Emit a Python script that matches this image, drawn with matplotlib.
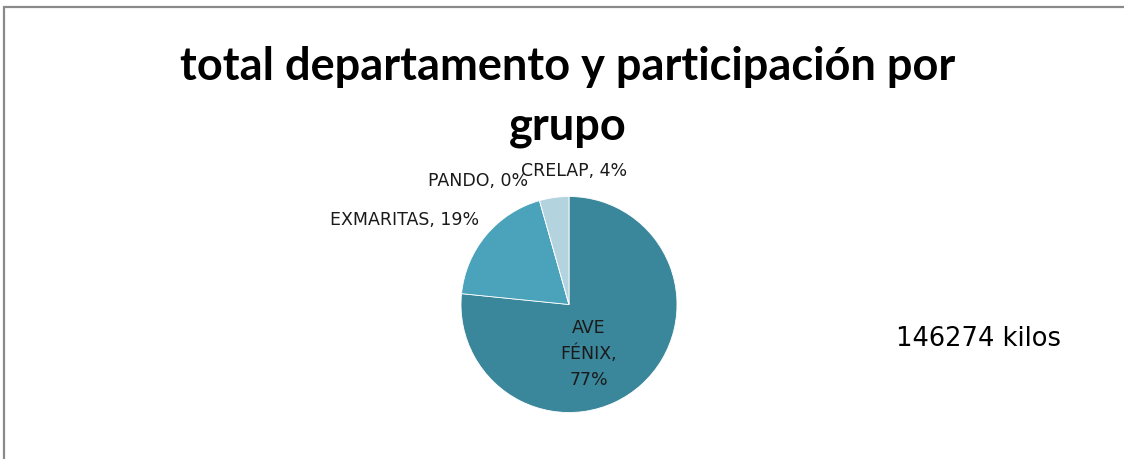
import matplotlib
matplotlib.use("Agg")
import matplotlib.pyplot as plt
from matplotlib.patches import Rectangle

# Data
categories = ["AVE FÉNIX", "EXMARITAS", "PANDO", "CRELAP"]
shares = [76.6, 19.0, 0.0, 4.4]
colors = ["#3A879B", "#4AA3BA", "#8CC3D3", "#B3D3DF"]
title_lines = ["total departamento y participación por", "grupo"]
total_text = "146274 kilos"

W, H = 1124, 460
fig = plt.figure(figsize=(W / 100, H / 100), dpi=100)
ax = fig.add_axes([0, 0, 1, 1])
ax.set_xlim(0, W)
ax.set_ylim(0, H)
ax.set_aspect("equal")
ax.axis("off")

# chart border (extends beyond right and bottom edges)
ax.add_patch(Rectangle((3.5, -20), W + 20, H - 8 + 20, fill=False,
                       edgecolor="#8a8a8a", linewidth=1.6))

cx, cy, r = 569, H - 305.5, 108
wedges, _ = ax.pie(shares, colors=colors, startangle=90, counterclock=False,
                   center=(cx, cy), radius=r, frame=True,
                   wedgeprops=dict(linewidth=0.6, edgecolor="white"))
ax.set_xlim(0, W)
ax.set_ylim(0, H)
ax.axis("off")

labels = [f"{c}, {round(s):.0f}%" for c, s in zip(categories, shares)]
lab_font = dict(family="DejaVu Sans", fontsize=12.5, color="#1a1a1a")

# inside label for AVE FÉNIX
ax.text(589, H - 354, "AVE\nFÉNIX,\n" + f"{round(shares[0]):.0f}%", ha="center", va="center",
        linespacing=1.55, **lab_font)
ax.text(479, H - 220, labels[1], ha="right", va="center", **lab_font)
ax.text(528, H - 181, labels[2], ha="right", va="center", **lab_font)
ax.text(521, H - 171, labels[3], ha="left", va="center", **lab_font)

for line, base in zip(title_lines, [80, 139]):
    ax.text(568, H - base, line, ha="center", va="baseline", fontsize=32.5,
            fontweight="bold", family="Lato", color="black")

ax.text(896, H - 339, total_text, ha="left", va="center",
        family="DejaVu Sans", fontsize=18.5, color="black")

fig.savefig("out.png", dpi=100)
